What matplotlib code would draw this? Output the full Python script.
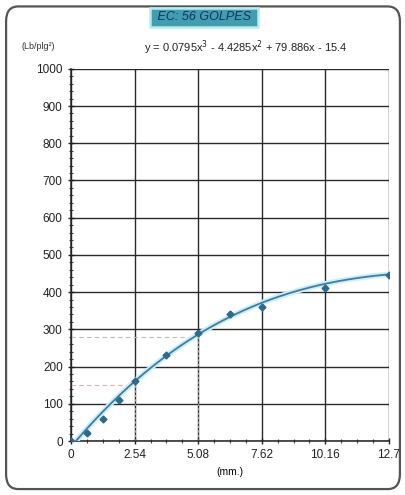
import matplotlib
matplotlib.use('Agg')
import matplotlib.pyplot as plt
import numpy as np
from matplotlib.patches import FancyBboxPatch

plt.rcParams['font.family'] = ['Liberation Sans', 'DejaVu Sans']

# datos (penetracion en mm, carga en Lb/plg2)
penetracion = [0.0, 0.635, 1.27, 1.905, 2.54, 3.81, 5.08, 6.35, 7.62, 10.16, 12.7]
carga = [0, 22, 60, 110, 160, 230, 290, 340, 360, 412, 446]

# coeficientes de la ecuacion mostrada
coef = [0.0795, -4.4285, 79.886, -15.4]
ecuacion = 'y = 0.0795x$^3$ - 4.4285x$^2$ + 79.886x - 15.4'

x_ticks = [0, 2.54, 5.08, 7.62, 10.16, 12.7]
x_labels = ['0', '2.54', '5.08', '7.62', '10.16', '12.7']
y_ticks = [0, 100, 200, 300, 400, 500, 600, 700, 800, 900, 1000]

# lecturas de referencia a 0.1" y 0.2"
ref_x = [2.54, 5.08]
ref_y = [150, 280]

fig = plt.figure(figsize=(4.06, 4.95), dpi=100)
fig.patch.set_facecolor('white')

# marco redondeado
marco = FancyBboxPatch((0.015, 0.012), 0.97, 0.975, boxstyle='round,pad=0,rounding_size=0.03',
                       transform=fig.transFigure, facecolor='none', edgecolor='#555555', lw=1.6)
fig.patches.append(marco)

ax = fig.add_axes([0.175, 0.109, 0.783, 0.752])

# curva de ajuste
xs = np.linspace(0, 12.7, 300)
ys = np.polyval(coef, xs)
mask = ys >= 0
ax.plot(xs[mask], ys[mask], color='#cdeef8', lw=4, zorder=3, solid_capstyle='round')
ax.plot(xs[mask], ys[mask], color='#3b7ea6', lw=1.3, zorder=4)
ax.plot(penetracion, carga, 'D', color='#2d6b8c', ms=3.5, zorder=5)

# lineas de referencia
for rx, ry, c in zip(ref_x, ref_y, ['#e0b0b0', '#bbbbbb']):
    ax.plot([0, rx], [ry, ry], ls=(0, (4, 3)), color=c, lw=0.8, zorder=2)
    ax.plot([rx, rx], [0, ry], ls=(0, (2, 2)), color='#a0a0a0', lw=0.8, zorder=2)

ax.set_xlim(0, 12.7)
ax.set_ylim(0, 1000)
ax.set_xticks(x_ticks)
ax.set_xticklabels(x_labels)
ax.set_yticks(y_ticks)
ax.set_xticks(np.arange(0, 12.71, 0.635), minor=True)
ax.set_yticks(np.arange(0, 1001, 20), minor=True)
ax.tick_params(axis='both', which='major', labelsize=8.5, direction='inout', length=5, width=1,
               color='#222222', labelcolor='#222222')
ax.tick_params(axis='both', which='minor', direction='inout', length=3, width=0.8, color='#444444')
ax.grid(True, which='major', color='#2a2a2a', lw=1.0)
for s in ax.spines.values():
    s.set_color('#222222')
    s.set_linewidth(1.1)
ax.spines['top'].set_visible(False)
ax.spines['right'].set_visible(False)

ax.set_xlabel('(mm.)', fontsize=7.5, labelpad=4)

fig.text(0.093, 0.906, '(Lb/plg²)', fontsize=6.5, ha='center', va='center', color='#333333')
fig.text(0.605, 0.903, ecuacion, fontsize=8, ha='center', va='center', color='#222222')
fig.text(0.502, 0.965, ' EC: 56 GOLPES ', fontsize=9, ha='center', va='center', color='#1c2f5e',
         style='italic', bbox=dict(boxstyle='square,pad=0.3', facecolor='#3f9fae', edgecolor='#b5ecf5', lw=1.8))

fig.savefig('out.png', dpi=100)
